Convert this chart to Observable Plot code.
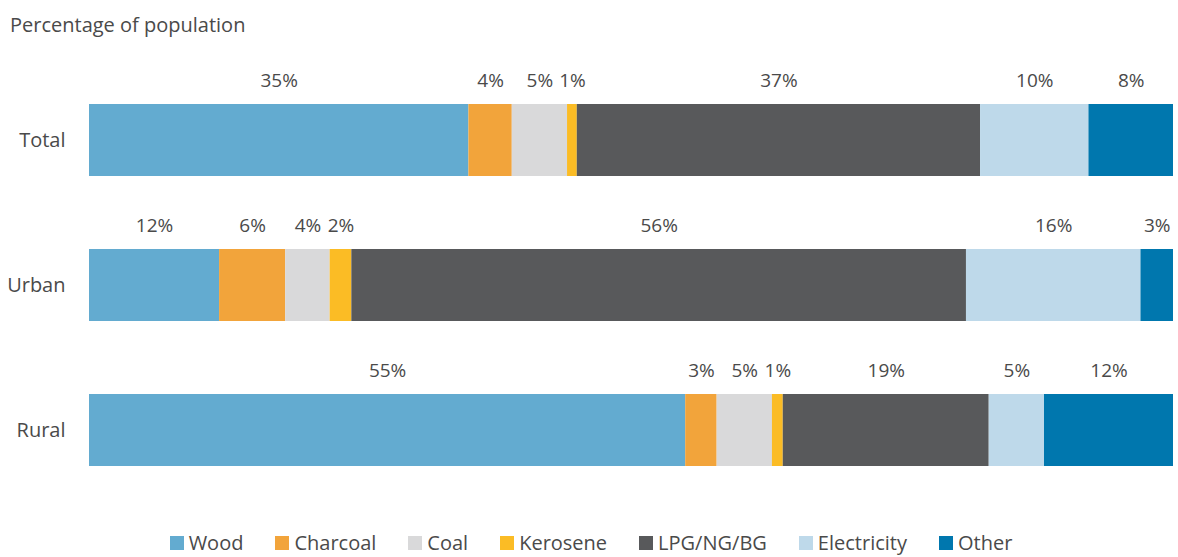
<!DOCTYPE html>
<html>
<head>
<meta charset="utf-8">
<script src="https://cdn.jsdelivr.net/npm/d3@7"></script>
<script src="https://cdn.jsdelivr.net/npm/@observablehq/plot@0.6"></script>
<style>
  body { margin: 0; background: #fff; font-family: "Open Sans", sans-serif; color: #4a4a4a; overflow: hidden; }
  #title { height: 50px; line-height: 50px; padding-left: 10px; font-size: 20px; color: #4a4a4a; }
  #legend { display: flex; justify-content: center; font-size: 20px; color: #4a4a4a; height: 24px; line-height: 24px; padding-left: 4px; }
  #legend .item { display: flex; align-items: center; margin: 0 16px; }
  #legend .sw { width: 14px; height: 14px; margin-right: 5px; }
</style>
</head>
<body>
<div id="title">Percentage of population</div>
<div id="chart"></div>
<div id="legend"></div>
<script>
const categories = ["Total", "Urban", "Rural"];
const fuels = ["Wood", "Charcoal", "Coal", "Kerosene", "LPG/NG/BG", "Electricity", "Other"];
const colors = ["#63abd0", "#f2a43b", "#d9d9da", "#fbbc25", "#58595b", "#bed9ea", "#0077ae"];
const totalValues = [35.0, 4.0, 5.1, 0.9, 37.2, 10.0, 7.8];
const urbanValues = [12.0, 6.1, 4.1, 2.0, 56.7, 16.1, 3.0];
const ruralValues = [55.0, 2.9, 5.1, 1.0, 19.0, 5.1, 11.9];
const totalLabels = ["35%", "4%", "5%", "1%", "37%", "10%", "8%"];
const urbanLabels = ["12%", "6%", "4%", "2%", "56%", "16%", "3%"];
const ruralLabels = ["55%", "3%", "5%", "1%", "19%", "5%", "12%"];

const seriesValues = [totalValues, urbanValues, ruralValues];
const seriesLabels = [totalLabels, urbanLabels, ruralLabels];
const data = [];
categories.forEach((c, i) => {
  fuels.forEach((f, j) => {
    data.push({category: c, fuel: f, value: seriesValues[i][j], label: seriesLabels[i][j]});
  });
});

const chart = Plot.plot({
  width: 1178,
  height: 481,
  marginLeft: 89,
  marginRight: 5,
  marginTop: 54,
  marginBottom: 65,
  style: {fontFamily: "'Open Sans', sans-serif", fontSize: "19px", color: "#4a4a4a", background: "#fff"},
  x: {domain: [0, 100], axis: null},
  y: {domain: categories, paddingInner: 73/145, paddingOuter: 0, label: null, tickSize: 0, tickPadding: 24},
  color: {domain: fuels, range: colors},
  marks: [
    Plot.barX(data, Plot.stackX({x: "value", y: "category", fill: "fuel", z: "fuel"})),
    Plot.text(data, Plot.stackX({x: "value", y: "category", z: "fuel", text: "label", dy: -60, fill: "#4a4a4a", fontSize: 19})),
    Plot.axisY({tickSize: 0, tickPadding: 24, fontSize: 20, label: null})
  ]
});
document.getElementById("chart").appendChild(chart);

const legend = document.getElementById("legend");
fuels.forEach((f, i) => {
  const item = document.createElement("div");
  item.className = "item";
  const sw = document.createElement("div");
  sw.className = "sw";
  sw.style.background = colors[i];
  const t = document.createElement("span");
  t.textContent = f;
  item.appendChild(sw);
  item.appendChild(t);
  legend.appendChild(item);
});
</script>
</body>
</html>
